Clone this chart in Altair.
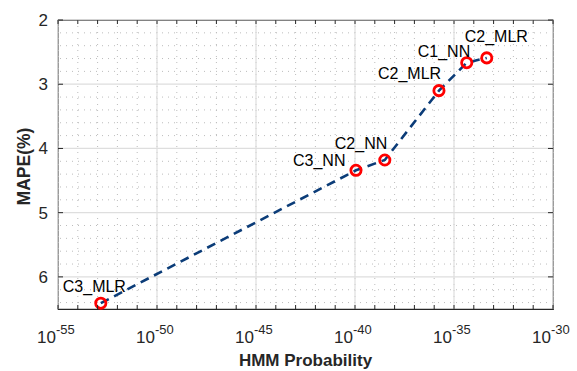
import altair as alt
import pandas as pd

# ---- data ----
names = ["C3_MLR", "C3_NN", "C2_NN", "C2_MLR", "C1_NN", "C2_MLR"]
hmm_prob = [1.45e-53, 1.12e-40, 3.2e-39, 1.74e-36, 4.4e-35, 4.5e-34]
mape = [6.41, 4.34, 4.18, 3.10, 2.665, 2.59]

x_major = [1e-55, 1e-50, 1e-45, 1e-40, 1e-35, 1e-30]
x_exponents = ["-55", "-50", "-45", "-40", "-35", "-30"]
x_minor = [10.0 ** (-k) for k in range(55, 29, -1)]
y_major = [2, 3, 4, 5, 6]
y_labels = ["2", "3", "4", "5", "6"]
y_minor = [2.2, 2.4, 2.6, 2.8, 3.2, 3.4, 3.6, 3.8, 4.2, 4.4, 4.6, 4.8,
           5.2, 5.4, 5.6, 5.8, 6.2, 6.4]
x_title = "HMM Probability"
y_title = "MAPE(%)"

# label offsets (pixels, left edge / baseline relative to point)
label_offsets = [(-38, -11), (-63, -4), (-50, -11), (-61, -12), (-49, -6), (-22, -16)]

W, H = 495, 289
FONT = "Liberation Sans"
AX = "#262626"

df = pd.DataFrame({"p": hmm_prob, "m": mape, "name": names, "i": range(len(names))})
xmaj = pd.DataFrame({"v": x_major, "e": x_exponents})
xmin = pd.DataFrame({"v": x_minor})
ymin = pd.DataFrame({"v": y_minor})
ymaj = pd.DataFrame({"v": y_major, "t": y_labels})

xs = alt.Scale(type="log", domain=[1e-55, 1e-30], nice=False)
ys = alt.Scale(domain=[2, 6.5], reverse=True, nice=False, zero=False)


def X(f):
    return alt.X(f, scale=xs, axis=None)


def Y(f):
    return alt.Y(f, scale=ys, axis=None)


minor_x = alt.Chart(xmin).mark_rule(color="#bcbcbc", strokeDash=[1, 5], strokeWidth=1).encode(
    x=X("v:Q"))
minor_y = alt.Chart(ymin).mark_rule(color="#bcbcbc", strokeDash=[1, 5], strokeWidth=1).encode(
    y=Y("v:Q"))
major_x = alt.Chart(xmaj).mark_rule(color="#dedede", strokeWidth=1.2).encode(x=X("v:Q"))
major_y = alt.Chart(ymaj).mark_rule(color="#dedede", strokeWidth=1.2).encode(y=Y("v:Q"))

line = alt.Chart(df).mark_line(color="#0B3C78", strokeWidth=2.6, strokeDash=[9, 6]).encode(
    x=X("p:Q"), y=Y("m:Q"), order="p:Q")

points = alt.Chart(df).mark_point(shape="circle", filled=False, color="#ff0000",
                                  strokeWidth=2.8, size=105, opacity=1).encode(
    x=X("p:Q"), y=Y("m:Q"))

labels = []
for i, (dx, dy) in enumerate(label_offsets):
    labels.append(
        alt.Chart(df).transform_filter(alt.datum.i == i).mark_text(
            font=FONT, fontSize=16, color="#000000", align="left",
            baseline="alphabetic", dx=dx, dy=dy).encode(
            x=X("p:Q"), y=Y("m:Q"), text="name:N"))

# ticks (inward)
xt_b = alt.Chart(xmin).mark_rule(color=AX, strokeWidth=1).encode(
    x=X("v:Q"), y=alt.value(H), y2=alt.value(H - 4))
xt_t = alt.Chart(xmin).mark_rule(color=AX, strokeWidth=1).encode(
    x=X("v:Q"), y=alt.value(0), y2=alt.value(4))
yt_l = alt.Chart(ymaj).mark_rule(color=AX, strokeWidth=1).encode(
    y=Y("v:Q"), x=alt.value(0), x2=alt.value(5))
yt_r = alt.Chart(ymaj).mark_rule(color=AX, strokeWidth=1).encode(
    y=Y("v:Q"), x=alt.value(W), x2=alt.value(W - 5))

# x tick labels: "10" + superscript exponent
ten = alt.Chart(xmaj).mark_text(font=FONT, fontSize=17, color=AX, align="right",
                                baseline="alphabetic", dx=-2).encode(
    x=X("v:Q"), y=alt.value(H + 34), text=alt.value("10"))
expo = alt.Chart(xmaj).mark_text(font=FONT, fontSize=13, color=AX, align="left",
                                 baseline="alphabetic", dx=-2).encode(
    x=X("v:Q"), y=alt.value(H + 25), text="e:N")
# y tick labels
ylab = alt.Chart(ymaj).mark_text(font=FONT, fontSize=17, color=AX, align="right",
                                 baseline="middle", dy=1).encode(
    y=Y("v:Q"), x=alt.value(-10), text="t:N")

# axis titles
xtitle = alt.Chart(pd.DataFrame({"t": [x_title]})).mark_text(
    font=FONT, fontSize=17, fontWeight="bold", color=AX, align="center",
    baseline="alphabetic").encode(x=alt.value(W / 2), y=alt.value(H + 57), text="t:N")
ytitle = alt.Chart(pd.DataFrame({"t": [y_title]})).mark_text(
    font=FONT, fontSize=17.5, fontWeight="bold", color=AX, align="center",
    baseline="alphabetic", angle=270).encode(x=alt.value(-28), y=alt.value(H / 2 + 2),
                                             text="t:N")

chart = alt.layer(minor_x, minor_y, major_x, major_y, line, points, *labels,
                  xt_b, xt_t, yt_l, yt_r, ten, expo, ylab, xtitle, ytitle).properties(
    width=W, height=H,
    autosize=alt.AutoSizeParams(type="none"),
    padding={"left": 58, "top": 20, "right": 24, "bottom": 62},
    background="white",
).configure_view(stroke=AX, strokeWidth=1.2)

chart.save("out.html", embed_options={"renderer": "svg", "actions": False})
